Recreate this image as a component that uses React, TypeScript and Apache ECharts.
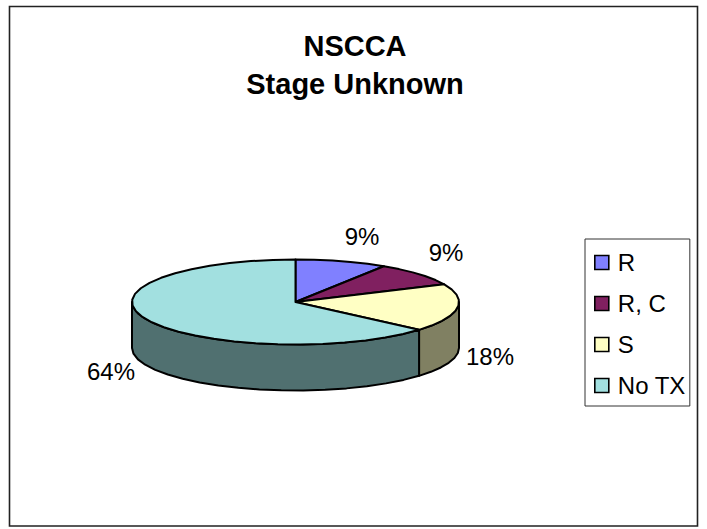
import React, { useEffect, useRef } from "react";
import * as echarts from "echarts";

const categories = ["R", "R, C", "S", "No TX"];
const counts = [1, 1, 2, 7];
const topColors = ["#8080FF", "#802060", "#FFFFC4", "#A2E0E0"];
const sideColors = ["#404080", "#401030", "#808062", "#507070"];
const titleText = "NSCCA\nStage Unknown";

const FONT = '"Liberation Sans", Arial, sans-serif';
const CX = 295.5, CY = 302, RX = 163.5, RY = 42.5, DEPTH = 46;
const labelAnchors: [number, number][] = [[362, 236], [446, 252], [490, 356], [111, 371]];

const total = counts.reduce((a, b) => a + b, 0);
const rim = (deg: number, dy = 0): [number, number] => {
  const r = (deg * Math.PI) / 180;
  return [CX + RX * Math.sin(r), CY - RY * Math.cos(r) + dy];
};
const arcPts = (a: number, b: number, dy = 0) => {
  const pts: [number, number][] = [];
  const n = Math.max(1, Math.ceil((b - a) / 8));
  for (let i = 0; i <= n; i++) pts.push(rim(a + ((b - a) * i) / n, dy));
  return pts;
};
const spans = counts.map((_, i) => {
  const before = counts.slice(0, i).reduce((a, b) => a + b, 0);
  return [(before / total) * 360, ((before + counts[i]) / total) * 360];
});
const stroke = { stroke: "#000", lineWidth: 2, lineJoin: "round" };

export default function App() {
  const ref = useRef<HTMLDivElement>(null);
  useEffect(() => {
    document.body.style.margin = "0";
    const chart = echarts.init(ref.current!, undefined, { renderer: "svg" });
    const sideSeries = {
      type: "custom", name: "sides", coordinateSystem: "none", silent: true, z: 1,
      data: counts,
      renderItem: (p: any) => {
        const [a, b] = spans[p.dataIndex];
        const s = Math.max(a, 90), e = Math.min(b, 270);
        if (e <= s) return { type: "group", children: [] };
        const pts = [...arcPts(s, e), ...arcPts(s, e, DEPTH).reverse()];
        return { type: "polygon", shape: { points: pts }, style: { fill: sideColors[p.dataIndex], ...stroke } };
      },
    };
    const topSeries = categories.map((name, i) => ({
      type: "custom", name, coordinateSystem: "none", silent: true, z: 2,
      itemStyle: { color: topColors[i] },
      data: [counts[i]],
      renderItem: () => {
        const [a, b] = spans[i];
        return {
          type: "group",
          children: [
            { type: "polygon", shape: { points: [[CX, CY], ...arcPts(a, b)] }, style: { fill: topColors[i], ...stroke } },
            {
              type: "text", x: labelAnchors[i][0], y: labelAnchors[i][1],
              style: {
                text: `${Math.round((counts[i] / total) * 100)}%`, fill: "#000",
                font: `24px ${FONT}`, align: "center", verticalAlign: "middle",
              },
            },
          ],
        };
      },
    }));
    chart.setOption({
      animation: false,
      backgroundColor: "#fff",
      title: {
        text: titleText, left: 350, top: 22, textAlign: "center",
        textStyle: { fontFamily: FONT, fontWeight: "bold", fontSize: 29, lineHeight: 38, color: "#000" },
      },
      legend: {
        data: categories, orient: "vertical", left: 585, top: 239,
        padding: [8, 4, 5, 9], itemWidth: 14, itemHeight: 14, itemGap: 10, icon: "rect",
        selectedMode: false, borderColor: "#333", borderWidth: 1,
        itemStyle: { borderColor: "#000", borderWidth: 1.6 },
        textStyle: { fontFamily: FONT, fontSize: 24, color: "#000", padding: [0, 0, 5, 4], lineHeight: 26 },
      },
      graphic: [{
        type: "rect", silent: true, z: -1,
        shape: { x: 9.5, y: 6.5, width: 688, height: 519.5 },
        style: { fill: "#fff", stroke: "#222", lineWidth: 1.6 },
      }],
      series: [sideSeries, ...topSeries],
    });
    return () => chart.dispose();
  }, []);
  return <div ref={ref} style={{ width: 707, height: 529 }} />;
}
